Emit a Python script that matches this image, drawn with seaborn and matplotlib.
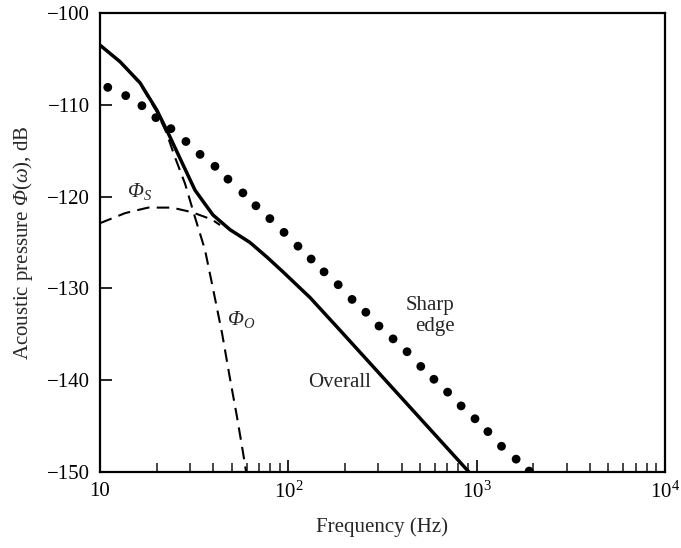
import numpy as np
import pandas as pd
import seaborn as sns
import matplotlib
matplotlib.use("Agg")
import matplotlib.pyplot as plt

# values
overall_f = [10, 12.77, 16.31, 20.07, 23.54, 27.26, 31.96, 35.5, 39.8, 49.0, 62.6,
             77.1, 93.7, 130.4, 187, 318, 910]
overall_db = [-103.5, -105.3, -107.6, -110.6, -113.5, -116.3, -119.3, -120.6, -122.0,
              -123.6, -125.0, -126.6, -128.2, -131.0, -134.5, -139.7, -150.0]

phi_o_f = [10, 12.77, 16.31, 20.07, 22.5, 25.0, 28.3, 32.0, 36.1, 39.8, 44.5, 48.9,
           53.4, 57.5, 60.0]
phi_o_db = [-103.5, -105.3, -107.7, -110.8, -113.0, -115.7, -118.6, -122.3, -125.8,
            -130.0, -134.9, -139.7, -144.0, -147.9, -150.3]

phi_s_f = [10, 13.6, 18.0, 24.1, 30.8, 39.3, 43.4]
phi_s_db = [-122.9, -121.8, -121.2, -121.2, -121.7, -122.5, -123.1]

sharp_f = [11.0, 13.7, 16.7, 19.8, 23.8, 28.6, 34.0, 40.8, 47.8, 57.4, 67.3, 79.8, 94.9,
           112.5, 132.2, 154.8, 184, 218, 258, 303, 360, 427, 505, 593, 701, 827,
           980, 1147, 1355, 1620, 1900]
sharp_db = [-108.1, -109.0, -110.1, -111.4, -112.6, -114.0, -115.4, -116.7, -118.1,
            -119.6, -121.0, -122.4, -123.9, -125.4, -126.8, -128.2, -129.6, -131.2,
            -132.6, -134.1, -135.5, -136.9, -138.5, -139.9, -141.3, -142.8, -144.2,
            -145.6, -147.2, -148.6, -149.9]

xticks = [10, 100, 1000, 10000]
xtick_labels = ["10", r"$10^2$", r"$10^3$", r"$10^4$"]
yticks = [-150, -140, -130, -120, -110, -100]

sns.set_style("ticks")
plt.rcParams["font.family"] = ["Liberation Serif", "DejaVu Serif"]
plt.rcParams["mathtext.fontset"] = "custom"
plt.rcParams["mathtext.rm"] = "Liberation Serif"
plt.rcParams["mathtext.it"] = "Liberation Serif:italic"
plt.rcParams["mathtext.sf"] = "Liberation Serif:italic"  # used for an italic capital Phi
plt.rcParams["axes.linewidth"] = 1.6

fig = plt.figure(figsize=(6.81, 5.48), dpi=100)
ax = fig.add_axes([0.1468, 0.1387, 0.8297, 0.8376])

dash = (0, (6, 3.5))
sns.lineplot(x=overall_f, y=overall_db, ax=ax, color="black", lw=2.5)
sns.lineplot(x=phi_o_f, y=phi_o_db, ax=ax, color="black", lw=1.5, linestyle=dash)
sns.lineplot(x=phi_s_f, y=phi_s_db, ax=ax, color="black", lw=1.5, linestyle=dash)
sns.scatterplot(x=sharp_f, y=sharp_db, ax=ax, color="black", s=40, edgecolor="none")

ax.set_xscale("log")
ax.set_xlim(10, 10000)
ax.set_ylim(-150, -100)
ax.set_xticks(xticks)
ax.set_xticklabels(xtick_labels)
ax.set_yticks(yticks)
ax.tick_params(axis="both", which="major", direction="in", length=8.5, width=1.2,
               labelsize=15, pad=7, colors="black")
ax.tick_params(axis="x", which="minor", direction="in", length=6.5, width=1.2)
for sp in ax.spines.values():
    sp.set_color("black")

ax.set_xlabel("Frequency (Hz)", fontsize=15, labelpad=10)
ax.set_ylabel(r"Acoustic pressure $\mathsf{\Phi}(\omega)$, dB", fontsize=15, labelpad=9)

ax.text(16.3, -119.4, r"$\mathsf{\Phi}_\mathit{S}$", fontsize=15, ha="center", va="center")
ax.text(56.2, -133.4, r"$\mathsf{\Phi}_\mathit{O}$", fontsize=15, ha="center", va="center")
ax.text(565, -133.0, "Sharp\nedge", fontsize=15, ha="center", va="center",
        multialignment="right", linespacing=1.1)
ax.text(188, -140.3, "Overall", fontsize=15, ha="center", va="center")

fig.savefig("out.png", dpi=100)
